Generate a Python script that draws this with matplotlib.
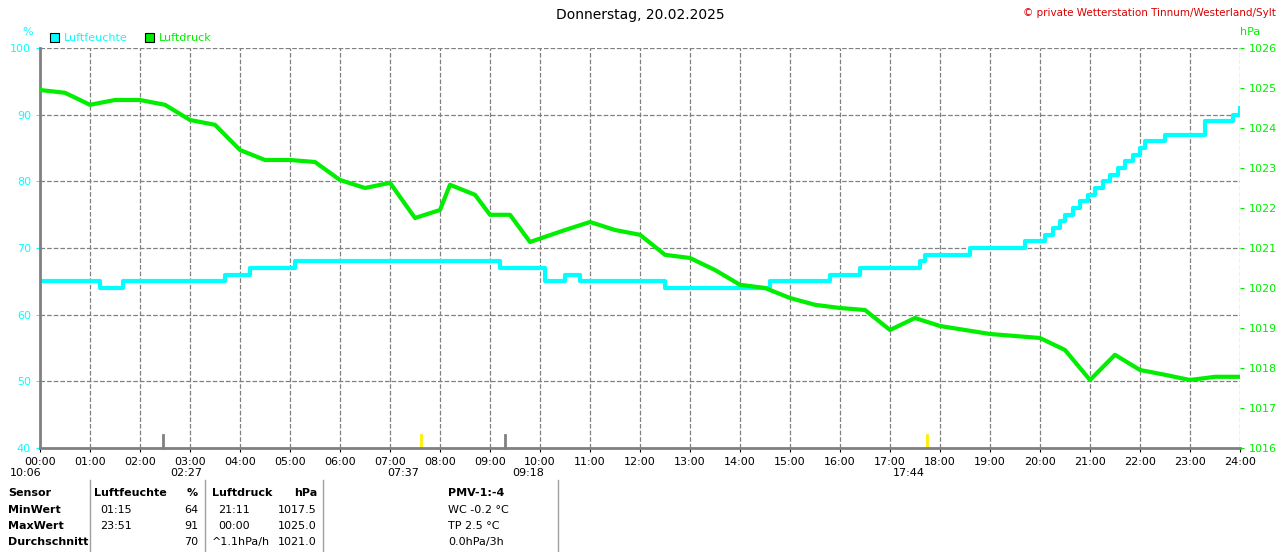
import matplotlib
matplotlib.use("Agg")
import matplotlib.pyplot as plt

# Luftfeuchte: steps (start hour, value)
hum_t = [0, 1.2, 1.65, 3.7, 4.2, 5.1, 9.2, 10.1, 10.5, 10.8, 12.5, 14.6, 15.8, 16.4, 17.6, 17.7, 18.6, 19.7,
         20.1, 20.25, 20.4, 20.5, 20.65, 20.8, 20.95, 21.1, 21.25, 21.4, 21.55, 21.7, 21.85, 22.0, 22.1, 22.5,
         23.3, 23.85, 24]
hum_v = [65, 64, 65, 66, 67, 68, 67, 65, 66, 65, 64, 65, 66, 67, 68, 69, 70, 71,
         72, 73, 74, 75, 76, 77, 78, 79, 80, 81, 82, 83, 84, 85, 86, 87,
         89, 90, 91]

# Luftdruck (hour, hPa)
p_t = [0, 0.5, 1.0, 1.5, 2.0, 2.5, 3, 3.5, 4, 4.5, 5, 5.5, 6, 6.5, 7, 7.5, 8, 8.2, 8.7, 9.0, 9.4, 9.8,
       10.5, 11.0, 11.5, 12, 12.5, 13, 13.5, 14, 14.5, 15, 15.5, 16, 16.5, 17, 17.5, 18, 18.5, 19, 20,
       20.5, 21, 21.5, 22, 22.5, 23, 23.5, 24]
p_v = [1024.95, 1024.88, 1024.58, 1024.7, 1024.7, 1024.58, 1024.2, 1024.08, 1023.45, 1023.2, 1023.2,
       1023.15, 1022.7, 1022.5, 1022.63, 1021.75, 1021.95, 1022.58, 1022.33, 1021.83, 1021.83, 1021.15,
       1021.45, 1021.65, 1021.45, 1021.33, 1020.83, 1020.75, 1020.45, 1020.08, 1020.0, 1019.75, 1019.58,
       1019.5, 1019.45, 1018.95, 1019.25, 1019.05, 1018.95, 1018.85, 1018.75, 1018.45, 1017.7, 1018.33,
       1017.95, 1017.83, 1017.7, 1017.78, 1017.78]

hours = [f"{h:02d}:00" for h in range(25)]

plt.rcParams['font.family'] = ['DejaVu Sans']
fig = plt.figure(figsize=(12.8, 5.52), dpi=100)
ax = fig.add_axes([40/1280, 104/552, 1200/1280, 400/552])
ax2 = ax.twinx()

ax.step(hum_t, hum_v, where='post', color='#00ffff', lw=3)
ax2.plot(p_t, p_v, color='#00ee00', lw=3)

ax.set_xlim(0, 24)
ax.set_ylim(40, 100)
ax2.set_ylim(1016, 1026)
ax.set_xticks(range(25))
ax.set_xticklabels(hours, fontsize=8)
ax.set_yticks(range(40, 101, 10))
ax.tick_params(axis='y', colors='#00ffff', labelsize=8, length=3)
ax.tick_params(axis='x', labelsize=8, length=3)
ax2.set_yticks(range(1016, 1027))
ax2.tick_params(axis='y', colors='#00ee00', labelsize=8, length=3)
ax.grid(True, ls='--', color='#808080', lw=0.9)
for s in ['left', 'bottom']:
    ax.spines[s].set_color('#808080')
    ax.spines[s].set_linewidth(2)
for s in ['top', 'right']:
    ax.spines[s].set_visible(False)
    ax2.spines[s].set_visible(False)
ax2.spines['left'].set_visible(False)
ax2.spines['bottom'].set_visible(False)

# sunrise / moon markers
for h, c in [(2.45, '#808080'), (7.62, '#ffee00'), (9.3, '#808080'), (17.73, '#ffee00')]:
    ax.plot([h, h], [40, 42], color=c, lw=2, clip_on=False)

fig.text(0.5, 0.985, "Donnerstag, 20.02.2025", ha='center', va='top', fontsize=10)
fig.text(0.997, 0.985, "© private Wetterstation Tinnum/Westerland/Sylt", ha='right', va='top',
         fontsize=7.5, color='#dd0000')
fig.text(22/1280, 1 - 32/552, "%", color='#00ffff', fontsize=8, ha='left', va='center')
fig.text(1240/1280, 1 - 32/552, "hPa", color='#00ee00', fontsize=8, ha='left', va='center')
for x, lab, c in [(50, "Luftfeuchte", '#00ffff'), (145, "Luftdruck", '#00ee00')]:
    fig.patches.append(plt.Rectangle((x/1280, 1 - 42/552), 9/1280, 9/552, transform=fig.transFigure,
                                     facecolor=c, edgecolor='black', lw=0.8))
    fig.text((x + 14)/1280, 1 - 38/552, lab, color=c, fontsize=8, va='center')

def ft(x, y, s, **kw):
    fig.text(x/1280, 1 - y/552, s, fontsize=8, va='center', **kw)

ft(10, 473, "10:06")
ft(170, 473, "02:27")
ft(387, 473, "07:37")
ft(512, 473, "09:18")
ft(893, 473, "17:44")

rows = [493, 510, 526, 542]
ft(8, rows[0], "Sensor", weight='bold')
ft(8, rows[1], "MinWert", weight='bold')
ft(8, rows[2], "MaxWert", weight='bold')
ft(8, rows[3], "Durchschnitt", weight='bold')
ft(94, rows[0], "Luftfeuchte", weight='bold')
ft(198, rows[0], "%", weight='bold', ha='right')
ft(212, rows[0], "Luftdruck", weight='bold')
ft(317, rows[0], "hPa", weight='bold', ha='right')
ft(100, rows[1], "01:15"); ft(198, rows[1], "64", ha='right')
ft(100, rows[2], "23:51"); ft(198, rows[2], "91", ha='right')
ft(198, rows[3], "70", ha='right')
ft(218, rows[1], "21:11"); ft(317, rows[1], "1017.5", ha='right')
ft(218, rows[2], "00:00"); ft(317, rows[2], "1025.0", ha='right')
ft(212, rows[3], "^1.1hPa/h"); ft(317, rows[3], "1021.0", ha='right')
ft(448, rows[0], "PMV-1:-4", weight='bold')
ft(448, rows[1], "WC -0.2 °C")
ft(448, rows[2], "TP 2.5 °C")
ft(448, rows[3], "0.0hPa/3h")
for x in [90, 205, 323, 558]:
    fig.add_artist(plt.Line2D([x/1280, x/1280], [0, 1 - 480/552], color='#a0a0a0', lw=1))

fig.savefig("out.png", dpi=100, facecolor='white')
